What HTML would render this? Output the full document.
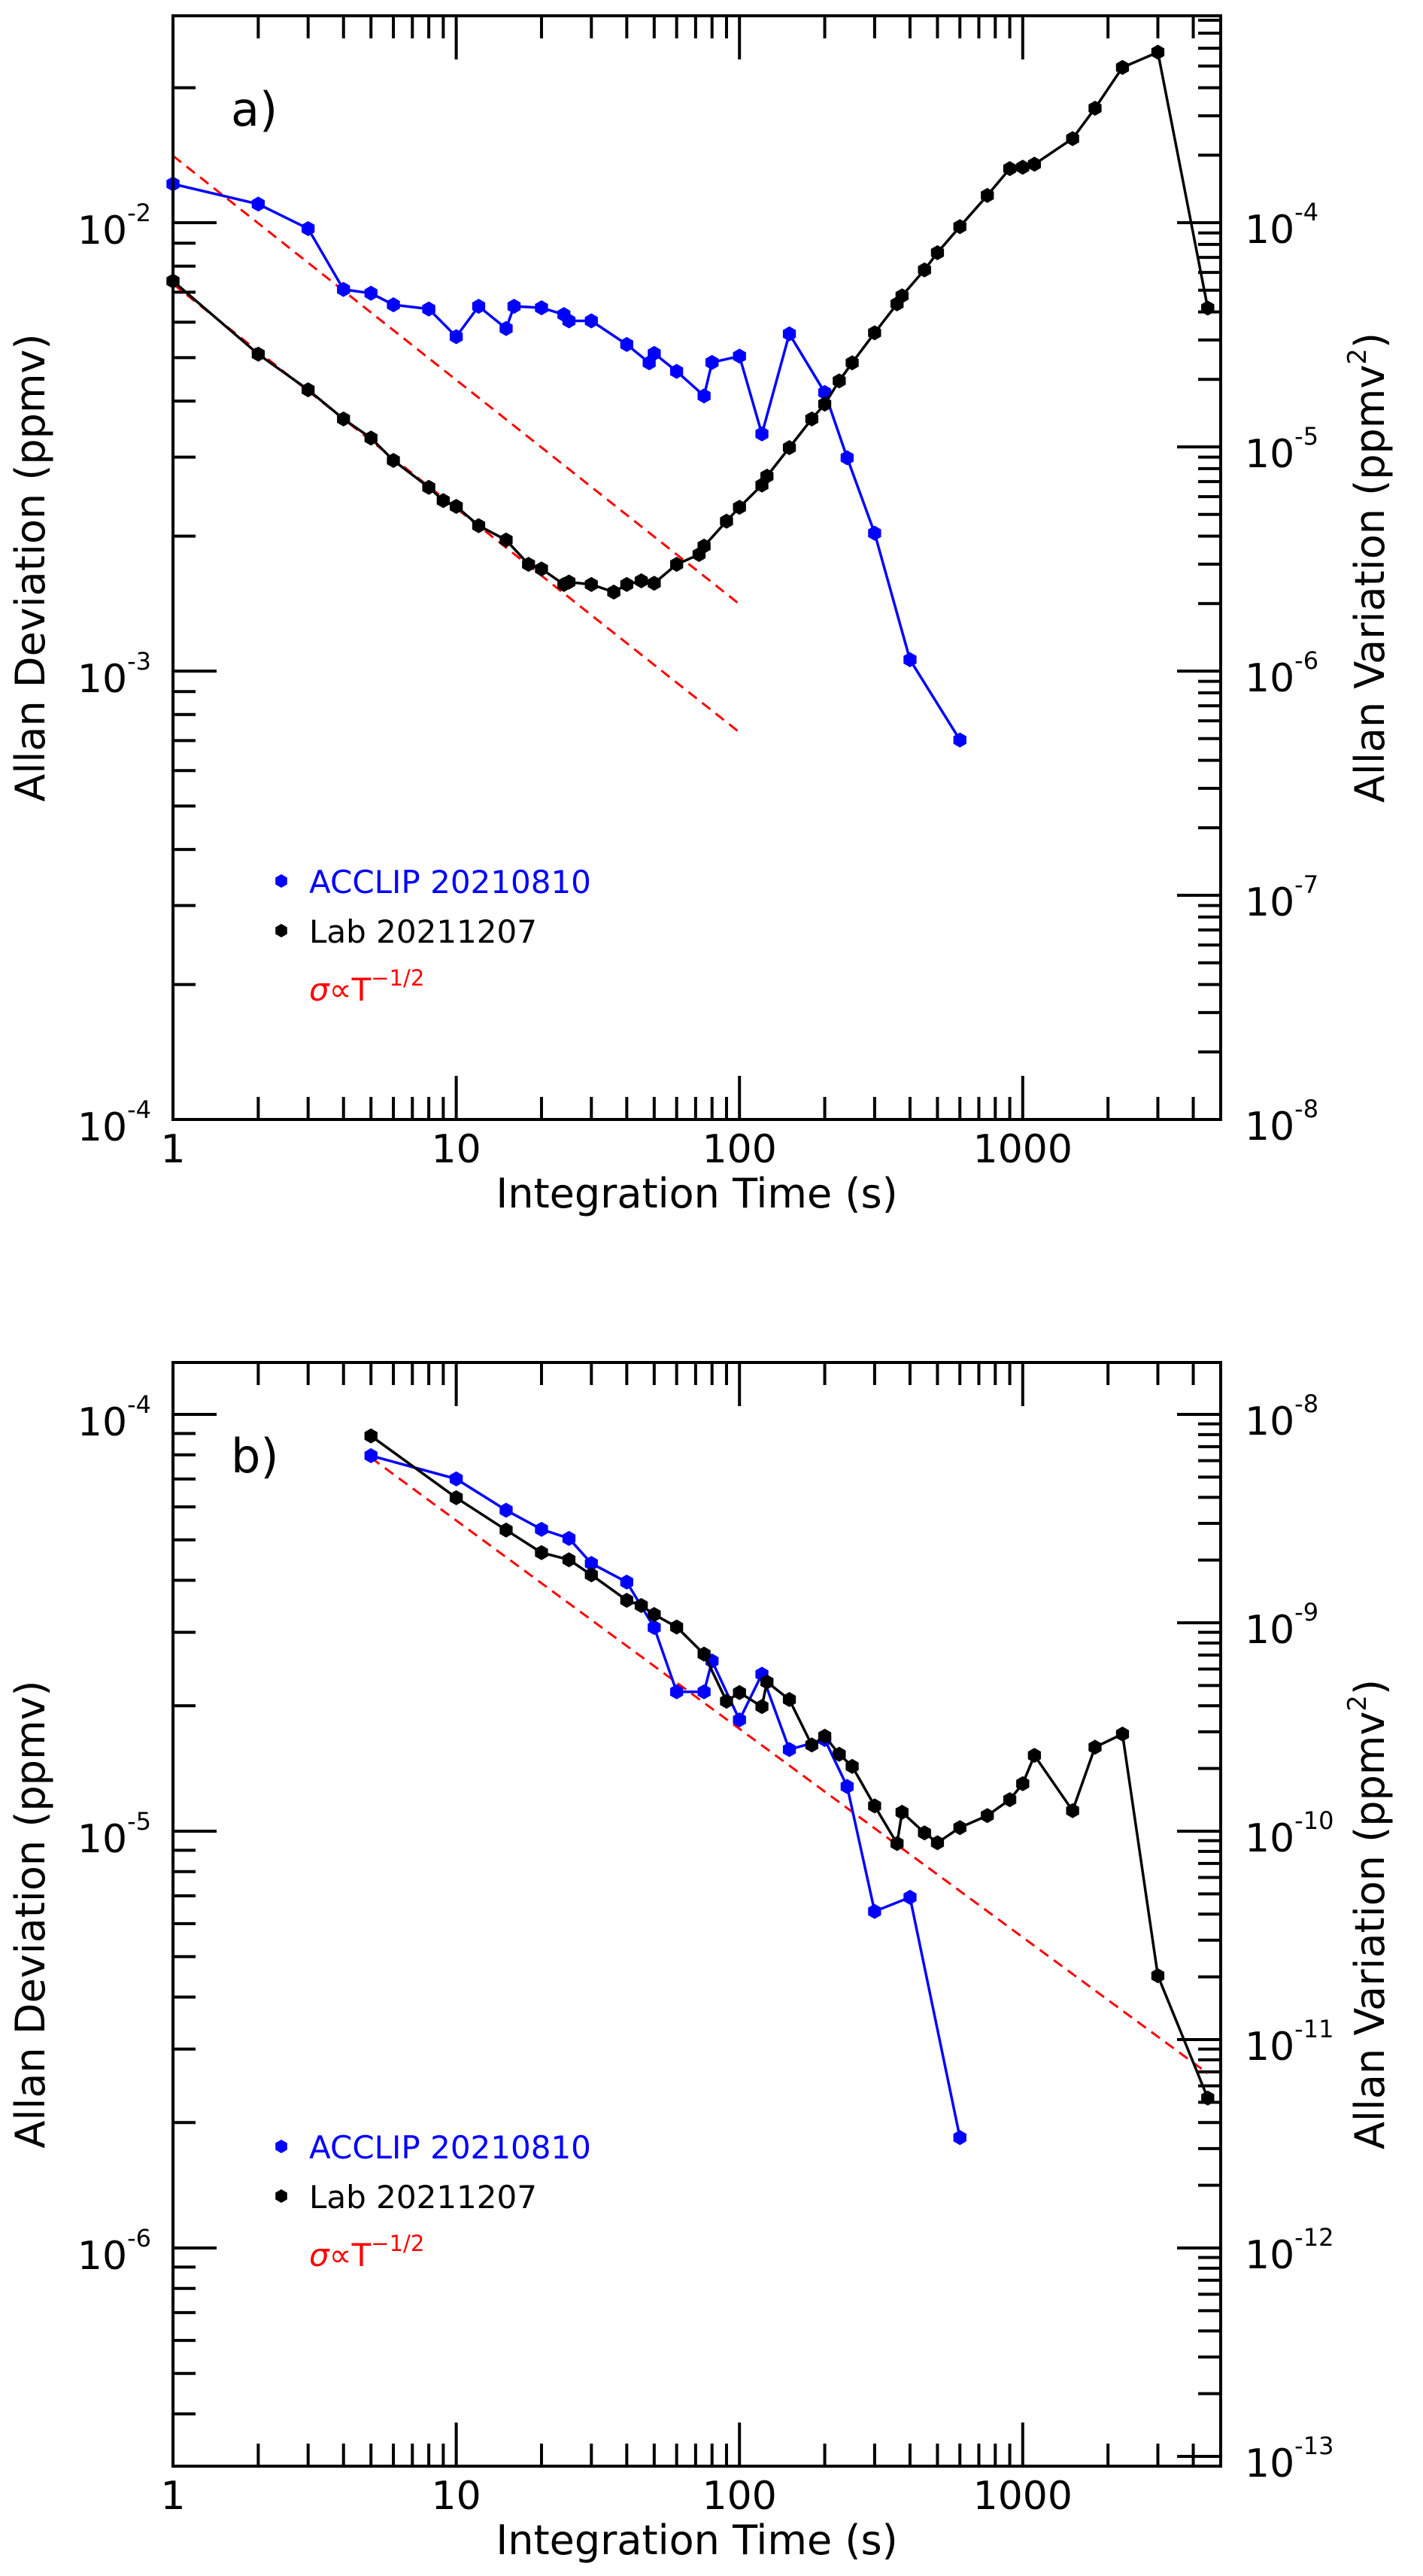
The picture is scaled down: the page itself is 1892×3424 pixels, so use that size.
<!DOCTYPE html>
<html><head><meta charset="utf-8">
<style>
html,body{margin:0;padding:0;background:#fff;}
svg{display:block;font-family:"DejaVu Sans","Liberation Sans",sans-serif;}
</style></head>
<body>
<svg id="fig" width="1892" height="3424" viewBox="0 0 1892 3424" xmlns="http://www.w3.org/2000/svg"></svg>
<script>
// Panel a data
const aBlueT = [1,2,3,4,5,6,8,10,12,15,16,20,24,25,30,40,48,50,60,75,80,100,120,150,200,240,300,400,600];
const aBlueV = [0.0122,0.0110,0.0097,0.0071,0.00696,0.00656,0.00642,0.00557,0.00651,0.00581,0.00651,0.00646,0.00624,0.00604,0.00604,0.00535,0.00487,0.00511,0.00466,0.00411,0.00488,0.00504,0.00338,0.00565,0.00418,0.00299,0.00203,0.00106,0.000702];
const aLabT = [1,2,3,4,5,6,8,9,10,12,15,18,20,24,25,30,36,40,45,50,60,72,75,90,100,120,125,150,180,200,225,250,300,360,375,450,500,600,750,900,1000,1100,1500,1800,2250,3000,4500];
const aLabV = [0.00741,0.00509,0.00424,0.00365,0.00331,0.00295,0.00257,0.00240,0.00233,0.00211,0.00196,0.00173,0.00169,0.00156,0.00158,0.00156,0.00150,0.00156,0.00159,0.00157,0.00173,0.00182,0.00190,0.00216,0.00232,0.00260,0.00272,0.00315,0.00365,0.00394,0.00444,0.00487,0.00568,0.00659,0.00687,0.00785,0.00857,0.00980,0.0115,0.0132,0.0133,0.0135,0.0154,0.0180,0.0222,0.0240,0.00645];
const aFitCoef = [0.0141,0.0073];
const aFitRange = [1,100];
// Panel b data
const bBlueT = [5,10,15,20,25,30,40,50,60,75,80,100,120,150,200,240,300,400,600];
const bBlueV = [7.96e-5,7.0e-5,5.89e-5,5.30e-5,5.04e-5,4.39e-5,3.96e-5,3.08e-5,2.16e-5,2.16e-5,2.56e-5,1.85e-5,2.38e-5,1.57e-5,1.66e-5,1.28e-5,6.42e-6,6.94e-6,1.84e-6];
const bLabT = [5,10,15,20,25,30,40,45,50,60,75,90,100,120,125,150,180,200,225,250,300,360,375,450,500,600,750,900,1000,1100,1500,1800,2250,3000,4500];
const bLabV = [8.88e-5,6.31e-5,5.28e-5,4.66e-5,4.48e-5,4.12e-5,3.58e-5,3.48e-5,3.31e-5,3.09e-5,2.66e-5,2.05e-5,2.15e-5,1.99e-5,2.28e-5,2.07e-5,1.61e-5,1.69e-5,1.53e-5,1.43e-5,1.15e-5,9.34e-6,1.11e-5,9.91e-6,9.38e-6,1.02e-5,1.09e-5,1.19e-5,1.30e-5,1.52e-5,1.12e-5,1.59e-5,1.71e-5,4.50e-6,2.29e-6];
const bFitCoef = [1.76e-4];
const bFitRange = [5,4500];
const xTickLabels = ["1","10","100","1000"];
const aLeftExp = [-4,-3,-2];
const aRightExp = [-8,-7,-6,-5,-4];
const bLeftExp = [-6,-5,-4];
const bRightExp = [-13,-12,-11,-10,-9,-8];

const NS = "http://www.w3.org/2000/svg";
const svg = document.getElementById('fig');
function mk(tag, attrs, parent){ const e=document.createElementNS(NS,tag); for(const k in attrs) e.setAttribute(k,attrs[k]); (parent||svg).appendChild(e); return e; }

function panel(cfg){
  const L=230,R=1623,T=cfg.top,B=cfg.bottom;
  const D=376.6;
  const X=t=>L+Math.log10(t)*D;
  const Y=v=>cfg.yRef-(Math.log10(v)-cfg.refExp)*cfg.dec;
  const g=mk('g',{});
  
  
  const clipId='clip'+cfg.name;
  const cp=mk('clipPath',{id:clipId},g); mk('rect',{x:L,y:T,width:R-L,height:B-T},cp);
  for(let e=0;e<=3;e++){
    for(let k=1;k<=9;k++){
      const t=k*Math.pow(10,e); if(t>=5000||(t===1)) continue;
      const x=X(t), len=(k===1)?58:30;
      const tb=mk('line',{x1:x,y1:B,x2:x,y2:B-len,stroke:'#000','stroke-width':4},g);
      
      
      const tt=mk('line',{x1:x,y1:T,x2:x,y2:T+len,stroke:'#000','stroke-width':4},g);
      
      
    }
  }
  xTickLabels.forEach((s,i)=>{
    const tx=mk('text',{x:X(Math.pow(10,i)),y:B+57,'font-size':52,'text-anchor':'middle',fill:'#000'},g);
    tx.textContent=s;
    
    
  });
  for(let e=cfg.leftExp[0]-1;e<=cfg.leftExp[cfg.leftExp.length-1]+1;e++){
    for(let k=1;k<=9;k++){
      const y=Y(k*Math.pow(10,e)); if(y<T+1||y>B-1) continue;
      const len=(k===1)?58:30;
      const ln=mk('line',{x1:L,y1:y,x2:L+len,y2:y,stroke:'#000','stroke-width':4},g);
      
      
    }
  }
  cfg.leftExp.forEach(e=>{
    const y=Y(Math.pow(10,e));
    const tx=mk('text',{x:201,y:y+28,'font-size':52,'text-anchor':'end',fill:'#000'},g);
    
    
    const a=mk('tspan',{},tx); a.textContent='10';
    const b=mk('tspan',{dy:-30,'font-size':32},tx); b.textContent=String(e);
  });
  for(let e=cfg.rightExp[0]-1;e<=cfg.rightExp[cfg.rightExp.length-1]+1;e++){
    for(let k=1;k<=9;k++){
      const y=Y(Math.sqrt(k*Math.pow(10,e))); if(y<T+1||y>B-1) continue;
      const len=(k===1)?58:30;
      const ln=mk('line',{x1:R,y1:y,x2:R-len,y2:y,stroke:'#000','stroke-width':4},g);
      
      
    }
  }
  cfg.rightExp.forEach(e=>{
    const y=Y(Math.sqrt(Math.pow(10,e)));
    const tx=mk('text',{x:1655,y:y+27,'font-size':52,'text-anchor':'start',fill:'#000'},g);
    
    
    const a=mk('tspan',{},tx); a.textContent='10';
    const b=mk('tspan',{dy:-30,'font-size':32},tx); b.textContent=String(e);
  });
  const fits=mk('g',{'clip-path':'url(#'+clipId+')'},g);
  cfg.fitCoef.forEach(c=>{
    const ln=mk('line',{x1:X(cfg.fitRange[0]),y1:Y(c/Math.sqrt(cfg.fitRange[0])),x2:X(cfg.fitRange[1]),y2:Y(c/Math.sqrt(cfg.fitRange[1])),stroke:'#ff0000','stroke-width':3,'stroke-dasharray':'14,9'},fits);
    
    
  });
  function series(ts,vs,color,name){
    const sg=mk('g',{},g);
    
    
    const pts=ts.map((t,i)=>X(t).toFixed(1)+','+Y(vs[i]).toFixed(1)).join(' ');
    const pl=mk('polyline',{points:pts,fill:'none',stroke:color,'stroke-width':3.5},sg);
    
    
    ts.forEach((t,i)=>{
      const cx=X(t),cy=Y(vs[i]),r=10;
      let p=[];for(let j=0;j<6;j++){const a=Math.PI/6+j*Math.PI/3;p.push((cx+r*Math.cos(a)).toFixed(1)+','+(cy+r*Math.sin(a)).toFixed(1));}
      const m=mk('polygon',{points:p.join(' '),fill:color},sg);
      
      
    });
  }
  series(cfg.blueT,cfg.blueV,'#0000ff','acclip-series');
  series(cfg.labT,cfg.labV,'#000000','lab-series');
  const fr=mk('rect',{x:L,y:T,width:R-L,height:B-T,fill:'none',stroke:'#000','stroke-width':4},g);
  
  
  const pl=mk('text',{x:307,y:cfg.top+146,'font-size':62,fill:'#000'},g);
  pl.textContent=cfg.letter;
  
  
  const xt=mk('text',{x:(L+R)/2,y:B+117,'font-size':54,'text-anchor':'middle',fill:'#000'},g);
  xt.textContent='Integration Time (s)';
  
  
  const cy=(T+B)/2;
  const yl=mk('text',{x:0,y:0,'font-size':54,'text-anchor':'middle',fill:'#000',transform:'translate(59,'+cy+') rotate(-90)'},g);
  yl.textContent='Allan Deviation (ppmv)';
  
  
  const yr=mk('text',{x:0,y:0,'font-size':54,'text-anchor':'middle',fill:'#000',transform:'translate(1840,'+cy+') rotate(-90)'},g);
  
  
  const r1=mk('tspan',{},yr); r1.textContent='Allan Variation (ppmv';
  const r2=mk('tspan',{dy:-24,'font-size':34},yr); r2.textContent='2';
  const r3=mk('tspan',{dy:24},yr); r3.textContent=')';
  const ly=cfg.legendY;
  const lg=mk('g',{},g);
  
  
  [['ACCLIP 20210810','#0000ff',0],['Lab 20211207','#000000',66]].forEach(([s,c,dy])=>{
    const cx=374,cyy=ly+dy-16,r=9;
    let p=[];for(let j=0;j<6;j++){const a=Math.PI/6+j*Math.PI/3;p.push((cx+r*Math.cos(a)).toFixed(1)+','+(cyy+r*Math.sin(a)).toFixed(1));}
    const m=mk('polygon',{points:p.join(' '),fill:c},lg);
    
    
    const t=mk('text',{x:411,y:ly+dy,'font-size':42,fill:c},lg);
    t.textContent=s;
    
    
  });
  const st=mk('text',{x:411,y:ly+143,'font-size':42,fill:'#ff0000'},lg);
  
  
  const s1=mk('tspan',{'font-style':'italic'},st); s1.textContent='σ';
  const s2=mk('tspan',{},st); s2.textContent='∝T';
  const s3=mk('tspan',{dy:-20,'font-size':29},st); s3.textContent='−1/2';
}

panel({name:'panel-a',letter:'a)',top:21,bottom:1488,yRef:1488,refExp:-4,dec:596,
  leftExp:aLeftExp,rightExp:aRightExp,blueT:aBlueT,blueV:aBlueV,labT:aLabT,labV:aLabV,
  fitCoef:aFitCoef,fitRange:aFitRange,legendY:1187});
panel({name:'panel-b',letter:'b)',top:1811,bottom:3278,yRef:1880,refExp:-4,dec:554,
  leftExp:bLeftExp,rightExp:bRightExp,blueT:bBlueT,blueV:bBlueV,labT:bLabT,labV:bLabV,
  fitCoef:bFitCoef,fitRange:bFitRange,legendY:2869});
</script>
</body></html>
